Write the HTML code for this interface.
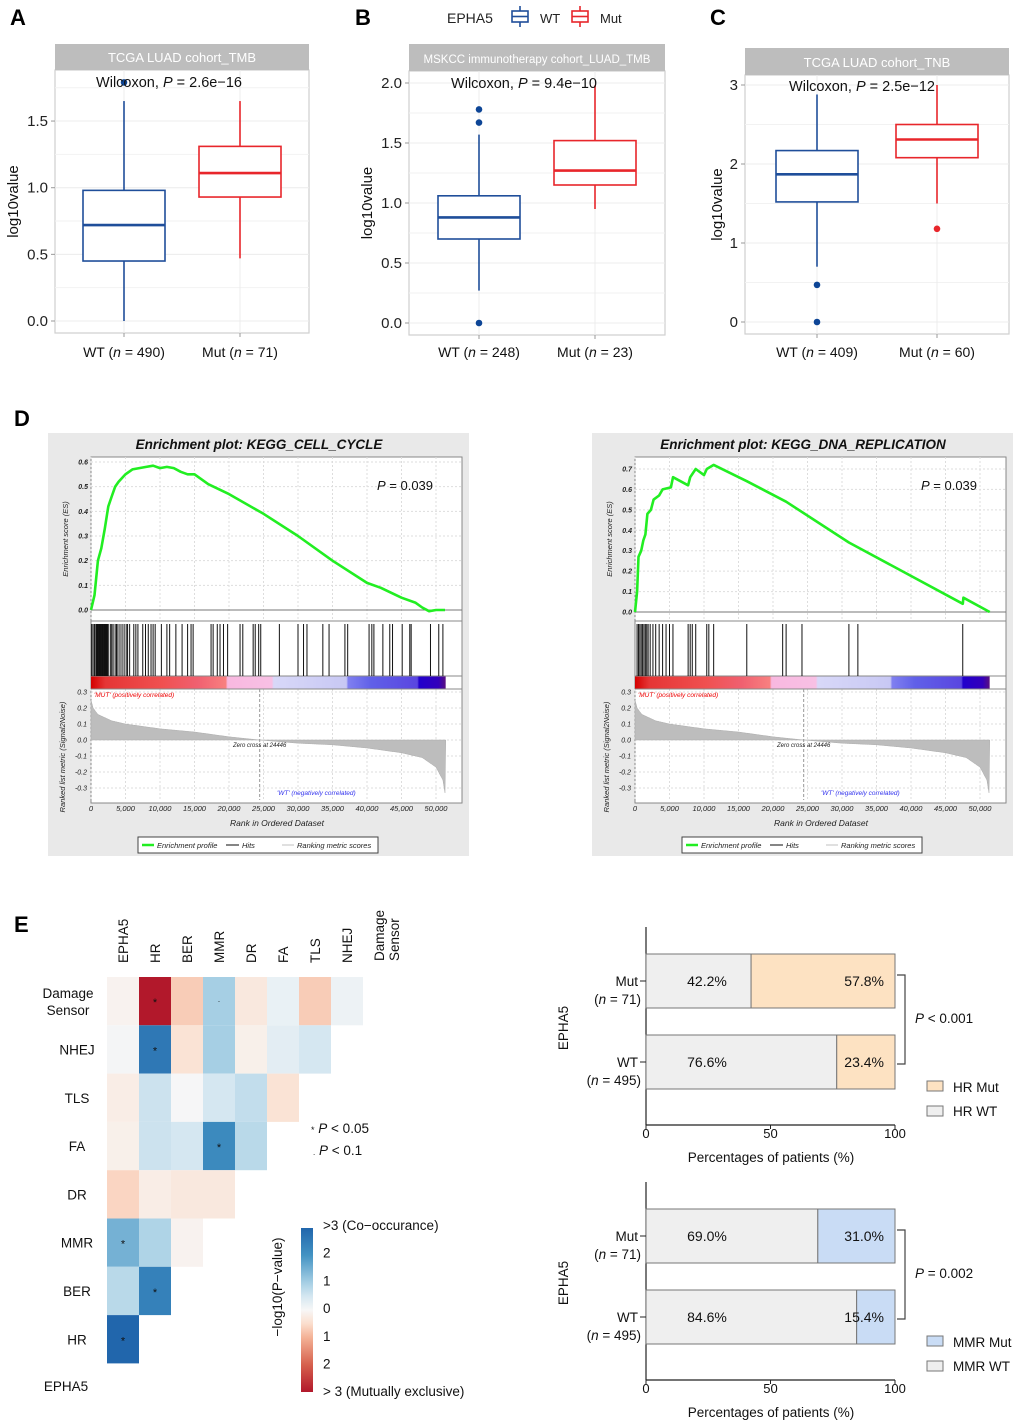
<!DOCTYPE html>
<html><head><meta charset="utf-8">
<style>
html,body{margin:0;padding:0;background:#fff;}
svg{display:block;font-family:"Liberation Sans",Arial,sans-serif;}
.t{fill:#222;}
.d{font-style:italic;fill:#222;}
</style></head>
<body>
<svg id="fig" width="1020" height="1427" viewBox="0 0 1020 1427" xmlns="http://www.w3.org/2000/svg">
<!-- panel letters -->
<text x="10" y="25" font-size="22" font-weight="bold">A</text>
<text x="355" y="25" font-size="22" font-weight="bold">B</text>
<text x="710" y="25" font-size="22" font-weight="bold">C</text>
<text x="14" y="426" font-size="22" font-weight="bold">D</text>
<text x="14" y="932" font-size="22" font-weight="bold">E</text>

<!-- top legend -->
<g>
<text x="447" y="23" font-size="14" class="t">EPHA5</text>
<g stroke="#1f4e9a" stroke-width="1.6" fill="none"><rect x="512" y="11" width="16" height="11"/><line x1="512" y1="16.5" x2="528" y2="16.5"/><line x1="520" y1="6" x2="520" y2="11"/><line x1="520" y1="22" x2="520" y2="27"/></g>
<text x="540" y="23" font-size="13" class="t">WT</text>
<g stroke="#e8262b" stroke-width="1.6" fill="none"><rect x="572" y="11" width="16" height="11"/><line x1="572" y1="16.5" x2="588" y2="16.5"/><line x1="580" y1="6" x2="580" y2="11"/><line x1="580" y1="22" x2="580" y2="27"/></g>
<text x="600" y="23" font-size="13" class="t">Mut</text>
</g>

<g id="boxes"></g>
<g id="gsea"></g>
<g id="heat"></g>
<g id="bars"></g>
</svg>

<script>
// ---------- Panel A/B/C data ----------
const boxGroups = ['WT','Mut'];
// [lowerWhisker, q1, median, q3, upperWhisker]
const aWT = [0, 0.45, 0.72, 0.98, 1.65];
const aMut = [0.47, 0.93, 1.11, 1.31, 1.65];
const aOutWT = [1.79];
const aOutMut = [];
const bWT = [0.27, 0.70, 0.88, 1.06, 1.57];
const bMut = [0.95, 1.15, 1.27, 1.52, 1.98];
const bOutWT = [1.78, 1.67, 0.0];
const bOutMut = [];
const cWT = [0.70, 1.52, 1.87, 2.17, 2.88];
const cMut = [1.50, 2.08, 2.31, 2.50, 3.0];
const cOutWT = [0.47, 0.0];
const cOutMut = [1.18];
const aTicks = [0.0, 0.5, 1.0, 1.5];
const bTicks = [0.0, 0.5, 1.0, 1.5, 2.0];
const cTicks = [0, 1, 2, 3];

// ---------- Panel D data ----------
const cellRanks = [0,500,1000,1500,2000,2500,3000,3500,4000,5000,6000,7000,8000,9000,10000,11000,12000,13000,14000,15000,17000,20000,25000,30000,35000,40000,42000,45000,47000,48000,49000,50000,51300];
const cellES = [0,0.06,0.2,0.25,0.33,0.42,0.46,0.5,0.52,0.55,0.57,0.575,0.58,0.585,0.575,0.58,0.575,0.56,0.55,0.55,0.51,0.47,0.39,0.3,0.2,0.11,0.09,0.05,0.03,0.01,-0.005,0,0.0];
const cellHits = [100,300,500,700,800,900,1000,1100,1200,1300,1400,1500,1600,1700,1800,1900,2000,2100,2200,2300,2400,2500,2800,3000,3200,3500,3700,3900,4200,4500,4800,5100,5300,5600,6200,6500,6800,7500,7900,8300,8700,9000,9300,10200,11000,11400,12300,13200,14000,14500,14800,17400,17700,18300,18700,19200,19800,21600,22000,23500,23800,24300,24600,27300,30000,30800,31300,33600,34500,36800,37200,40300,40700,41000,42300,43300,43700,45100,46200,46400,49200,50400,51000];
const dnaRanks = [0,300,500,900,1200,1500,1800,2300,2700,3500,4000,5200,5500,7700,8000,8800,10000,10400,11400,16200,21900,31000,47500,47600,51400];
const dnaES = [0,0.1,0.27,0.3,0.35,0.38,0.48,0.5,0.55,0.57,0.6,0.61,0.66,0.62,0.66,0.7,0.67,0.7,0.72,0.64,0.54,0.34,0.04,0.07,0];
const dnaHits = [300,500,700,900,1100,1300,1500,1700,1900,2200,2600,3000,3500,4000,4500,5000,5500,7700,8000,8300,8800,10400,10700,11400,16200,21400,21900,24200,31000,32300,47500];
const metricRanks = [0,300,1000,3000,5000,10000,15000,20000,24446,30000,35000,40000,45000,48000,50000,51000,51300,51400];
const metricVals = [0.25,0.2,0.16,0.12,0.1,0.07,0.05,0.02,0,-0.02,-0.03,-0.05,-0.08,-0.11,-0.17,-0.25,-0.33,0];
const rankTicks = [0,5000,10000,15000,20000,25000,30000,35000,40000,45000,50000];
const rankTickLabels = ['0','5,000','10,000','15,000','20,000','25,000','30,000','35,000','40,000','45,000','50,000'];

// ---------- Panel E heatmap data ----------
const heatRows = ['Damage Sensor','NHEJ','TLS','FA','DR','MMR','BER','HR'];
const heatCols = ['EPHA5','HR','BER','MMR','DR','FA','TLS','NHEJ'];
const heatVals = [
  [-0.1,-3,-0.7,1.0,-0.3,0.2,-0.7,0.15],
  [0.05,2.6,-0.4,1.0,-0.15,0.3,0.5],
  [-0.2,0.6,0.02,0.5,0.7,-0.4],
  [-0.15,0.6,0.5,2.2,0.8],
  [-0.6,-0.2,-0.3,-0.3],
  [1.5,0.9,-0.1],
  [0.8,2.4],
  [3]
];
const heatSig = [
  ['','*','','.','','','',''],
  ['','*','','','','',''],
  ['','','','','',''],
  ['','','','*',''],
  ['','','',''],
  ['*','',''],
  ['','*'],
  ['*']
];

// ---------- Panel E bars ----------
const barGroups = ['Mut','WT'];
const barGroupN = ['(n = 71)','(n = 495)'];
const hrWT = [42.2, 76.6];
const hrMut = [57.8, 23.4];
const mmrWT = [69.0, 84.6];
const mmrMut = [31.0, 15.4];
const pctTicks = [0, 50, 100];

const NS = 'http://www.w3.org/2000/svg';
function mk(parent, tag, attrs, text){
  const e = document.createElementNS(NS, tag);
  for (const k in attrs) e.setAttribute(k, attrs[k]);
  if (text !== undefined) e.textContent = text;
  parent.appendChild(e);
  return e;
}
function interp(xs, ys, x){
  for (let i=1;i<xs.length;i++){ if (x<=xs[i]) { const t=(x-xs[i-1])/(xs[i]-xs[i-1]); return ys[i-1]+t*(ys[i]-ys[i-1]); } }
  return ys[ys.length-1];
}

// ================= BOX PLOTS =================
const boxRoot = document.getElementById('boxes');
function boxPanel(cfg){
  const g = mk(boxRoot,'g',{});
  
  
  const y = v => cfg.y0 - v*cfg.k;
  // panel
  const bg = mk(g,'rect',{x:cfg.x0,y:cfg.top,width:cfg.x1-cfg.x0,height:cfg.bot-cfg.top,fill:'#fff',stroke:'#cfcfcf','stroke-width':1.2});
  
  
  // grid minor + major
  for (let i=0;i<cfg.ticks.length;i++){
    const v = cfg.ticks[i];
    const gl = mk(g,'line',{x1:cfg.x0,x2:cfg.x1,y1:y(v),y2:y(v),stroke:'#ececec','stroke-width':1});
    
    
    const half = v + cfg.step/2;
    if (y(half) > cfg.top) {
      const gm = mk(g,'line',{x1:cfg.x0,x2:cfg.x1,y1:y(half),y2:y(half),stroke:'#f2f2f2','stroke-width':1});
      
      
    }
    const tk = mk(g,'line',{x1:cfg.x0-4,x2:cfg.x0,y1:y(v),y2:y(v),stroke:'#999'});
    
    
    const tl = mk(g,'text',{x:cfg.x0-7,y:y(v)+5,'font-size':15,'text-anchor':'end',fill:'#222'}, cfg.tickFmt(v));
    
    
  }
  // strip
  const st = mk(g,'rect',{x:cfg.x0,y:cfg.stripY,width:cfg.x1-cfg.x0,height:cfg.top-cfg.stripY,fill:'#bdbdbd'});
  
  
  const stt = mk(g,'text',{x:(cfg.x0+cfg.x1)/2,y:cfg.top-8,'font-size':cfg.stripFs,'text-anchor':'middle',fill:'#fff'}, cfg.strip);
  
  
  const data = [cfg.wt, cfg.mut], outs = [cfg.outWT, cfg.outMut], cols=['#1f4e9a','#e8262b'];
  for (let i=0;i<2;i++){
    const cx = cfg.cx[i], s = data[i], c = cols[i], hw = 41;
    const vg = mk(g,'line',{x1:cx,x2:cx,y1:cfg.top,y2:cfg.bot,stroke:'#ececec'});
    
    
    const xt = mk(g,'line',{x1:cx,x2:cx,y1:cfg.bot,y2:cfg.bot+4,stroke:'#999'});
    
    
    const w1 = mk(g,'line',{x1:cx,x2:cx,y1:y(s[0]),y2:y(s[1]),stroke:c,'stroke-width':1.6});
    
    
    const w2 = mk(g,'line',{x1:cx,x2:cx,y1:y(s[3]),y2:y(s[4]),stroke:c,'stroke-width':1.6});
    
    
    const bx = mk(g,'rect',{x:cx-hw,y:y(s[3]),width:hw*2,height:y(s[1])-y(s[3]),fill:'#fff',stroke:c,'stroke-width':1.6});
    
    
    const md = mk(g,'line',{x1:cx-hw,x2:cx+hw,y1:y(s[2]),y2:y(s[2]),stroke:c,'stroke-width':2.6});
    
    
    for (const o of outs[i]){
      const pt = mk(g,'circle',{cx:cx,cy:y(o),r:3.3,fill:c==='#1f4e9a'?'#0d4596':'#e8262b'});
      
      
    }
  }
  const wl = mk(g,'text',{x:cfg.wx,y:cfg.wy,'font-size':14.5,'text-anchor':'middle',fill:'#111'});
  
  
  wl.innerHTML = 'Wilcoxon, <tspan font-style="italic">P</tspan> = '+cfg.p;
  for (let i=0;i<2;i++){
    const xl = mk(g,'text',{x:cfg.cx[i],y:357,'font-size':14,'text-anchor':'middle',fill:'#111'});
    
    
    xl.innerHTML = boxGroups[i] + (i===0?' (':'  (') + '<tspan font-style="italic">n</tspan> = ' + cfg.n[i] + ')';
  }
  const yl = mk(g,'text',{x:0,y:0,'font-size':15,'text-anchor':'middle',fill:'#111',transform:'translate('+cfg.ylx+','+((cfg.top+cfg.bot)/2)+') rotate(-90)'},'log10value');
  
  
}
boxPanel({name:'panel-a-boxplot',x0:55,x1:309,stripY:44,top:70,bot:333,y0:321,k:133.3,ticks:aTicks,step:0.5,tickFmt:v=>v.toFixed(1),
  strip:'TCGA LUAD cohort_TMB',stripFs:13,cx:[124,240],wt:aWT,mut:aMut,outWT:aOutWT,outMut:aOutMut,wx:169,wy:87,p:'2.6e\u221216',n:[490,71],ylx:18});
boxPanel({name:'panel-b-boxplot',x0:409,x1:665,stripY:44,top:71,bot:335,y0:323,k:120,ticks:bTicks,step:0.5,tickFmt:v=>v.toFixed(1),
  strip:'MSKCC immunotherapy cohort_LUAD_TMB',stripFs:11.5,cx:[479,595],wt:bWT,mut:bMut,outWT:bOutWT,outMut:bOutMut,wx:524,wy:88,p:'9.4e\u221210',n:[248,23],ylx:372});
boxPanel({name:'panel-c-boxplot',x0:745,x1:1009,stripY:48,top:75,bot:334,y0:322,k:79,ticks:cTicks,step:1,tickFmt:v=>String(v),
  strip:'TCGA LUAD cohort_TNB',stripFs:13,cx:[817,937],wt:cWT,mut:cMut,outWT:cOutWT,outMut:cOutMut,wx:862,wy:91,p:'2.5e\u221212',n:[409,60],ylx:722});

// ================= GSEA =================
const gRoot = document.getElementById('gsea');
function gseaPanel(cfg){
  const g = mk(gRoot,'g',{});
  
  
  const ox = cfg.ox;
  const L = 91+ox, R = 462+ox;
  const xr = r => L + r*0.0069;
  const esTop = 457, esBot = 621, hitBot = 676, barBot = 689, rmBot = 800;
  const yES = v => cfg.es0 - v*cfg.esk;
  const yRM = v => 740 - v*160;
  const bg = mk(g,'rect',{x:48+ox,y:433,width:421,height:423,fill:'#e9e9e9'});
  
  
  const ti = mk(g,'text',{x:259+ox,y:449,'font-size':13.5,'font-weight':'bold','font-style':'italic','text-anchor':'middle',fill:'#111'}, cfg.title);
  
  
  const pa = mk(g,'rect',{x:L,y:esTop,width:R-L,height:rmBot+3-esTop,fill:'#fff',stroke:'#888','stroke-width':1});
  
  
  // vertical grid
  for (let i=0;i<rankTicks.length;i++){
    const x = xr(rankTicks[i]);
    const vg = mk(g,'line',{x1:x,x2:x,y1:esTop,y2:esBot,stroke:'#ddd','stroke-dasharray':'2,2'});
    
    
    const vg2 = mk(g,'line',{x1:x,x2:x,y1:barBot,y2:rmBot,stroke:'#ddd','stroke-dasharray':'2,2'});
    
    
    const tl = mk(g,'text',{x:x,y:811,'font-size':7.5,'text-anchor':'middle',class:'d'}, rankTickLabels[i]);
    
    
  }
  for (const v of cfg.esTicks){
    const hg = mk(g,'line',{x1:L,x2:R,y1:yES(v),y2:yES(v),stroke:v===0?'#777':'#ddd','stroke-dasharray':v===0?'':'2,2'});
    
    
    const tl = mk(g,'text',{x:L-3,y:yES(v)+2.5,'font-size':7,'text-anchor':'end',class:'d','font-weight':'bold'}, v.toFixed(1));
    
    
  }
  const rmT = [0.3,0.2,0.1,0,-0.1,-0.2,-0.3];
  for (const v of rmT){
    const hg = mk(g,'line',{x1:L,x2:R,y1:yRM(v),y2:yRM(v),stroke:'#ddd','stroke-dasharray':'2,2'});
    
    
    const tl = mk(g,'text',{x:L-4,y:yRM(v)+2.5,'font-size':7,'text-anchor':'end',class:'d'}, v.toFixed(1));
    
    
  }
  const sep1 = mk(g,'line',{x1:L,x2:R,y1:esBot,y2:esBot,stroke:'#888'});
  
  
  // colour bar
  const gid = 'cb'+ox;
  const defs = mk(g,'defs',{});
  const lg = mk(defs,'linearGradient',{id:gid,x1:0,x2:1,y1:0,y2:0});
  const stops = [[0,'#d40000'],[0.04,'#e53535'],[0.2,'#f05050'],[0.3,'#f06070'],[0.38,'#f88080'],[0.385,'#f8b8e0'],[0.51,'#f8c0e4'],[0.515,'#d8d8f8'],[0.72,'#c8c8f4'],[0.725,'#8080f0'],[0.79,'#6060e8'],[0.92,'#5a46e0'],[0.925,'#2200cc'],[0.98,'#3300bb'],[1,'#5a1080']];
  for (const s of stops) mk(lg,'stop',{offset:s[0],'stop-color':s[1]});
  const cb = mk(g,'rect',{x:L,y:hitBot,width:xr(51400)-L,height:barBot-hitBot,fill:'url(#'+gid+')'});
  
  
  const sep2 = mk(g,'line',{x1:L,x2:R,y1:hitBot,y2:hitBot,stroke:'#888'});
  
  
  const sep3 = mk(g,'line',{x1:L,x2:R,y1:barBot,y2:barBot,stroke:'#888'});
  
  
  // hits
  for (const h of cfg.hits){
    const hl = mk(g,'line',{x1:xr(h),x2:xr(h),y1:esBot+3,y2:hitBot,stroke:'#111','stroke-width':1});
    
    
  }
  // ranked metric area
  let d = 'M'+xr(0)+','+yRM(0);
  for (let r=0;r<=51400;r+=100){ d += ' L'+xr(r).toFixed(1)+','+yRM(interp(metricRanks,metricVals,r)).toFixed(1); }
  d += ' L'+xr(51400)+','+yRM(0)+' Z';
  const ar = mk(g,'path',{d:d,fill:'#bdbdbd',stroke:'#aaa','stroke-width':0.5});
  
  
  const zx = xr(24446);
  const zl = mk(g,'line',{x1:zx,x2:zx,y1:barBot,y2:rmBot,stroke:'#999','stroke-dasharray':'3,2'});
  
  
  const zt = mk(g,'text',{x:zx,y:747,'font-size':6,'text-anchor':'middle',class:'d'},'Zero cross at 24446');
  
  
  const mt = mk(g,'text',{x:L+3,y:697,'font-size':6.5,'font-style':'italic',fill:'#e00'},"'MUT' (positively correlated)");
  
  
  const wt = mk(g,'text',{x:L+186,y:795,'font-size':6.5,'font-style':'italic',fill:'#3333ee'},"'WT' (negatively correlated)");
  
  
  // ES curve
  let p = '';
  for (let i=0;i<cfg.ranks.length;i++){ p += (i?' L':'M')+xr(cfg.ranks[i]).toFixed(1)+','+yES(cfg.es[i]).toFixed(1); }
  const cv = mk(g,'path',{d:p,fill:'none',stroke:'#22ee22','stroke-width':2.6,'stroke-linejoin':'round'});
  
  
  const pt = mk(g,'text',{x:L+286,y:490,'font-size':13,fill:'#111'});
  
  
  pt.innerHTML = '<tspan font-style="italic">P</tspan> = 0.039';
  const yt1 = mk(g,'text',{x:0,y:0,'font-size':7.5,'text-anchor':'middle',class:'d',transform:'translate('+(L-23)+',539) rotate(-90)'},'Enrichment score (ES)');
  
  
  const yt2 = mk(g,'text',{x:0,y:0,'font-size':7.5,'text-anchor':'middle',class:'d',transform:'translate('+(L-26)+',757) rotate(-90)'},'Ranked list metric (Signal2Noise)');
  
  
  const xt = mk(g,'text',{x:L+186,y:826,'font-size':8.5,'text-anchor':'middle',class:'d'},'Rank in Ordered Dataset');
  
  
  // legend
  const lb = mk(g,'rect',{x:138+ox,y:837,width:240,height:16,fill:'#fff',stroke:'#444'});
  
  
  mk(g,'line',{x1:142+ox,x2:154+ox,y1:845,y2:845,stroke:'#22ee22','stroke-width':2.5});
  const l1 = mk(g,'text',{x:157+ox,y:848,'font-size':7.5,class:'d'},'Enrichment profile');
  
  
  mk(g,'line',{x1:226+ox,x2:239+ox,y1:845,y2:845,stroke:'#333','stroke-width':1.2});
  const l2 = mk(g,'text',{x:242+ox,y:848,'font-size':7.5,class:'d'},'Hits');
  
  
  mk(g,'line',{x1:282+ox,x2:294+ox,y1:845,y2:845,stroke:'#ccc','stroke-width':1.2});
  const l3 = mk(g,'text',{x:297+ox,y:848,'font-size':7.5,class:'d'},'Ranking metric scores');
  
  
}
gseaPanel({name:'gsea-cell-cycle',ox:0,title:'Enrichment plot: KEGG_CELL_CYCLE',ranks:cellRanks,es:cellES,hits:cellHits,es0:610,esk:246.7,esTicks:[0,0.1,0.2,0.3,0.4,0.5,0.6]});
gseaPanel({name:'gsea-dna-replication',ox:544,title:'Enrichment plot: KEGG_DNA_REPLICATION',ranks:dnaRanks,es:dnaES,hits:dnaHits,es0:612,esk:204.3,esTicks:[0,0.1,0.2,0.3,0.4,0.5,0.6,0.7]});

// ================= HEATMAP =================
const hRoot = document.getElementById('heat');
const cStops = [[-3,[178,24,43]],[-2,[214,96,77]],[-1,[244,178,150]],[-0.5,[251,222,205]],[0,[247,247,247]],[0.5,[213,231,241]],[1,[166,207,228]],[2,[67,147,195]],[3,[33,102,172]]];
function hcol(v){
  v = Math.max(-3,Math.min(3,v));
  for (let i=1;i<cStops.length;i++){
    if (v<=cStops[i][0]){
      const a=cStops[i-1],b=cStops[i],t=(v-a[0])/(b[0]-a[0]);
      return 'rgb('+[0,1,2].map(j=>Math.round(a[1][j]+t*(b[1][j]-a[1][j]))).join(',')+')';
    }
  }
}
const HX = 107, HY = 977, CW = 32, CH = 48.3;
for (let r=0;r<heatRows.length;r++){
  for (let c=0;c<heatVals[r].length;c++){
    const cell = mk(hRoot,'rect',{x:HX+c*CW,y:HY+r*CH,width:CW,height:CH,fill:hcol(heatVals[r][c])});
    
    
    const s = heatSig[r][c];
    if (s){
      const st = mk(hRoot,'text',{x:HX+c*CW+CW/2,y:HY+r*CH+CH/2+(s==='*'?5:1),'font-size':s==='*'?11:8,'text-anchor':'middle',fill:'#111'}, s==='*'?'*':'.');
      
      
    }
  }
  const lbl = heatRows[r];
  if (lbl==='Damage Sensor'){
    const t1 = mk(hRoot,'text',{x:68,y:HY+21,'font-size':13.5,'text-anchor':'middle',fill:'#111'},'Damage');
    
    
    const t2 = mk(hRoot,'text',{x:68,y:HY+38,'font-size':13.5,'text-anchor':'middle',fill:'#111'},'Sensor');
    
    
  } else {
    const t = mk(hRoot,'text',{x:77,y:HY+r*CH+CH/2+5,'font-size':13.5,'text-anchor':'middle',fill:'#111'},lbl);
    
    
  }
}
const eph = mk(hRoot,'text',{x:66,y:1391,'font-size':13.5,'text-anchor':'middle',fill:'#111'},'EPHA5');


for (let c=0;c<heatCols.length;c++){
  const cx = HX+c*CW+CW/2+5;
  const t = mk(hRoot,'text',{x:0,y:0,'font-size':13.5,fill:'#111',transform:'translate('+cx+',963) rotate(-90)'},heatCols[c]);
  
  
}
const ds1 = mk(hRoot,'text',{x:0,y:0,'font-size':13.5,fill:'#111',transform:'translate(384,961) rotate(-90)'},'Damage');


const ds2 = mk(hRoot,'text',{x:0,y:0,'font-size':13.5,fill:'#111',transform:'translate(399,961) rotate(-90)'},'Sensor');


// sig legend
const sg1 = mk(hRoot,'text',{x:311,y:1133,'font-size':13.5,fill:'#111'});


sg1.innerHTML = '<tspan font-size="9">*</tspan> <tspan font-style="italic">P</tspan> &lt; 0.05';
const sg2 = mk(hRoot,'text',{x:313,y:1155,'font-size':13.5,fill:'#111'});


sg2.innerHTML = '<tspan font-size="8">.</tspan> <tspan font-style="italic">P</tspan> &lt; 0.1';
// colour bar legend
const hdefs = mk(hRoot,'defs',{});
const hg = mk(hdefs,'linearGradient',{id:'hgrad',x1:0,x2:0,y1:0,y2:1});
for (let i=cStops.length-1;i>=0;i--){ mk(hg,'stop',{offset:(3-cStops[i][0])/6,'stop-color':hcol(cStops[i][0])}); }
const cbar = mk(hRoot,'rect',{x:301,y:1228,width:12,height:164,fill:'url(#hgrad)'});


const cbLabels = ['>3 (Co\u2212occurance)','2','1','0','1','2','> 3 (Mutually exclusive)'];
for (let i=0;i<cbLabels.length;i++){
  const t = mk(hRoot,'text',{x:323,y:1230+i*27.7,'font-size':13.5,fill:'#111'},cbLabels[i]);
  
  
}
const cbt = mk(hRoot,'text',{x:0,y:0,'font-size':13.5,'text-anchor':'middle',fill:'#111',transform:'translate(282,1287) rotate(-90)'},'\u2212log10(P\u2212value)');



// ================= BARS =================
const bRoot = document.getElementById('bars');
function barPanel(cfg){
  const g = mk(bRoot,'g',{});
  
  
  const oy = cfg.oy;
  const x = v => 646 + v*2.49;
  const rowsY = [954+oy, 1035+oy], bh = 54;
  const ax = mk(g,'line',{x1:646,x2:646,y1:927+oy,y2:1125+oy,stroke:'#222','stroke-width':1.2});
  
  
  const xa = mk(g,'line',{x1:646,x2:x(100),y1:1125+oy,y2:1125+oy,stroke:'#222','stroke-width':1.2});
  
  
  for (const t of pctTicks){
    const tk = mk(g,'line',{x1:x(t),x2:x(t),y1:1125+oy,y2:1129+oy,stroke:'#222'});
    
    
    const tl = mk(g,'text',{x:x(t),y:1138+oy,'font-size':13,'text-anchor':'middle',fill:'#111'},String(t));
    
    
  }
  for (let i=0;i<barGroups.length;i++){
    const y = rowsY[i];
    const b1 = mk(g,'rect',{x:x(0),y:y,width:x(cfg.wt[i])-x(0),height:bh,fill:'#efefef',stroke:'#777','stroke-width':1});
    
    
    const b2 = mk(g,'rect',{x:x(cfg.wt[i]),y:y,width:x(cfg.wt[i]+cfg.mut[i])-x(cfg.wt[i]),height:bh,fill:cfg.col,stroke:'#777','stroke-width':1});
    
    
    const v1 = mk(g,'text',{x:x(0)+61,y:y+32,'font-size':14,'text-anchor':'middle',fill:'#111'},cfg.wt[i].toFixed(1)+'%');
    
    
    const v2 = mk(g,'text',{x:x(100)-11,y:y+32,'font-size':14,'text-anchor':'end',fill:'#111'},cfg.mut[i].toFixed(1)+'%');
    
    
    const tk = mk(g,'line',{x1:640,x2:646,y1:y+bh/2,y2:y+bh/2,stroke:'#222'});
    
    
    const c1 = mk(g,'text',{x:638,y:y+bh/2+5,'font-size':13.5,'text-anchor':'end',fill:'#111'},barGroups[i]);
    
    
    const c2 = mk(g,'text',{x:641,y:y+bh/2+23,'font-size':13.5,'text-anchor':'end',fill:'#111'});
    
    
    c2.innerHTML = barGroupN[i].replace('n','<tspan font-style="italic">n</tspan>');
  }
  const br = mk(g,'path',{d:'M897,'+(975+oy)+' H905 V'+(1064+oy)+' H897',fill:'none',stroke:'#444','stroke-width':1.2});
  
  
  const pl = mk(g,'text',{x:915,y:1023+oy,'font-size':13.5,fill:'#111'});
  
  
  pl.innerHTML = '<tspan font-style="italic">P</tspan> '+cfg.p;
  const yt = mk(g,'text',{x:0,y:0,'font-size':13.5,'text-anchor':'middle',fill:'#111',transform:'translate(568,'+(1028+oy)+') rotate(-90)'},'EPHA5');
  
  
  const xt = mk(g,'text',{x:771,y:1162+oy,'font-size':13.5,'text-anchor':'middle',fill:'#111'},'Percentages of patients (%)');
  
  
  const lr1 = mk(g,'rect',{x:927,y:1081+oy,width:16,height:10,fill:cfg.col,stroke:'#777'});
  
  
  const lt1 = mk(g,'text',{x:953,y:1092+oy,'font-size':13.5,fill:'#111'},cfg.lab+' Mut');
  
  
  const lr2 = mk(g,'rect',{x:927,y:1106+oy,width:16,height:10,fill:'#efefef',stroke:'#777'});
  
  
  const lt2 = mk(g,'text',{x:953,y:1116+oy,'font-size':13.5,fill:'#111'},cfg.lab+' WT');
  
  
}
barPanel({name:'hr-stacked-bar',oy:0,wt:hrWT,mut:hrMut,col:'#fde2c2',p:'< 0.001',lab:'HR'});
barPanel({name:'mmr-stacked-bar',oy:255,wt:mmrWT,mut:mmrMut,col:'#c9dcf5',p:'= 0.002',lab:'MMR'});
</script>
</body></html>
